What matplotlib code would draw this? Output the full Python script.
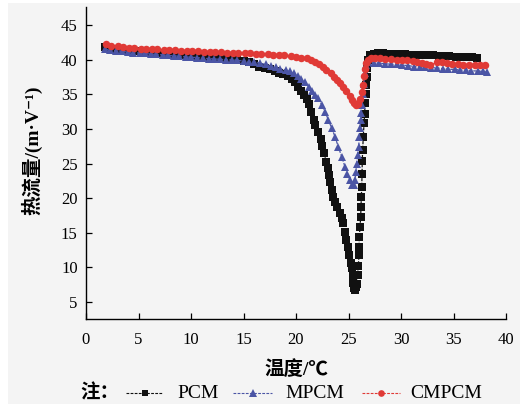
import matplotlib
matplotlib.use("Agg")
import matplotlib.pyplot as plt
from matplotlib.lines import Line2D
from matplotlib.patches import Rectangle

plt.rcParams['font.family'] = ['Liberation Serif', 'Noto Sans CJK SC', 'DejaVu Sans']

# ---- data ----
pcm_x = [1.8, 2.3, 2.9, 3.4, 4.0, 4.5, 5.1, 5.6, 6.2, 6.7,
         7.3, 7.8, 8.4, 8.9, 9.5, 10.0, 10.6, 11.1, 11.7, 12.2,
         12.8, 13.3, 13.9, 14.4, 15.0, 15.5, 16.0, 16.5, 17.0, 17.5,
         18.0, 18.4, 18.8, 19.2, 19.6, 19.9, 20.2, 20.5, 20.8, 21.0,
         21.2, 21.4, 21.7, 21.8, 22.1, 22.35, 22.45, 22.7, 22.85, 23.0,
         23.15, 23.25, 23.4, 23.55, 23.7, 23.95, 24.2, 24.35, 24.5, 24.65,
         24.8, 24.95, 25.05, 25.2, 25.3, 25.4, 25.45, 25.55, 25.62, 25.7,
         25.78, 25.87, 25.93, 26.0, 26.0, 26.03, 26.1, 26.16, 26.19, 26.22,
         26.26, 26.29, 26.31, 26.35, 26.41, 26.48, 26.54, 26.58, 26.63, 26.68,
         26.73, 26.8, 26.9, 27.05, 27.4, 27.8, 28.3, 28.8, 29.3, 29.8,
         30.4, 30.9, 31.4, 32.0, 32.5, 33.0, 33.6, 34.1, 34.6, 35.2,
         35.7, 36.2, 36.8, 37.2]
pcm_y = [41.8, 41.7, 41.6, 41.5, 41.4, 41.3, 41.2, 41.1, 41.0, 40.95,
         40.9, 40.8, 40.75, 40.7, 40.6, 40.55, 40.5, 40.45, 40.4, 40.35,
         40.3, 40.25, 40.2, 40.0, 39.8, 39.6, 39.3, 39.0, 38.8, 38.6,
         38.3, 38.1, 37.9, 37.6, 37.2, 36.7, 36.1, 35.5, 34.9, 34.3,
         33.6, 32.4, 31.3, 30.6, 29.6, 28.5, 27.5, 26.5, 25.2, 24.3,
         23.3, 22.4, 21.2, 20.2, 19.5, 18.7, 17.9, 17.2, 16.4, 15.1,
         13.9, 13.0, 11.8, 10.7, 9.9, 8.9, 7.7, 7.0, 6.8, 7.2,
         7.6, 8.9, 10.2, 11.8, 13.0, 14.4, 15.9, 17.3, 18.7, 20.2,
         21.6, 23.5, 25.4, 27.0, 28.9, 30.8, 32.2, 33.7, 35.0, 36.3,
         37.5, 38.8, 39.9, 40.6, 40.8, 40.9, 40.9, 40.85, 40.8, 40.8,
         40.75, 40.7, 40.7, 40.65, 40.6, 40.6, 40.55, 40.5, 40.5, 40.45,
         40.4, 40.4, 40.35, 40.3]

mpcm_x = [1.8, 2.3, 2.9, 3.4, 4.0, 4.5, 5.1, 5.6, 6.2, 6.7,
          7.3, 7.8, 8.4, 8.9, 9.5, 10.0, 10.6, 11.1, 11.7, 12.2,
          12.8, 13.3, 13.9, 14.4, 15.0, 15.5, 16.0, 16.6, 17.1, 17.6,
          18.1, 18.5, 19.0, 19.4, 19.8, 20.2, 20.5, 20.9, 21.2, 21.5,
          21.8, 22.1, 22.45, 22.76, 23.08, 23.4, 23.71, 24.03, 24.35, 24.67,
          24.9, 25.14, 25.37, 25.5, 25.62, 25.71, 25.78, 25.87, 25.97, 26.03,
          26.1, 26.16, 26.22, 26.3, 26.38, 26.45, 26.55, 26.7, 26.9, 27.4,
          27.9, 28.5, 29.0, 29.6, 30.1, 30.7, 31.2, 31.8, 32.3, 32.9,
          33.4, 34.0, 34.5, 35.1, 35.6, 36.2, 36.7, 37.3, 37.8, 38.2]
mpcm_y = [41.5, 41.4, 41.3, 41.2, 41.1, 41.0, 40.95, 40.9, 40.8, 40.75,
          40.7, 40.6, 40.55, 40.5, 40.4, 40.35, 40.3, 40.2, 40.15, 40.1,
          40.05, 40.0, 39.95, 39.9, 39.8, 39.7, 39.6, 39.5, 39.3, 39.1,
          38.9, 38.7, 38.5, 38.3, 38.0, 37.6, 37.2, 36.7, 36.1, 35.5,
          34.9, 34.4, 33.5, 32.5, 31.3, 30.1, 28.9, 27.4, 26.0, 24.5,
          23.5, 22.6, 21.9, 21.9, 22.6, 23.8, 25.0, 26.2, 27.4, 28.9,
          30.1, 31.3, 32.3, 33.5, 35.0, 36.5, 38.0, 39.2, 39.6, 39.5,
          39.5, 39.4, 39.35, 39.3, 39.2, 39.15, 39.0, 38.95, 38.9, 38.85,
          38.8, 38.7, 38.6, 38.6, 38.5, 38.45, 38.4, 38.35, 38.3, 38.2]

cmpcm_x = [1.9, 2.4, 3.0, 3.5, 4.1, 4.6, 5.2, 5.7, 6.3, 6.8,
           7.4, 7.9, 8.5, 9.0, 9.6, 10.1, 10.7, 11.2, 11.8, 12.3,
           12.9, 13.4, 14.0, 14.5, 15.1, 15.6, 16.2, 16.7, 17.3, 17.8,
           18.4, 18.9, 19.5, 20.0, 20.5, 21.0, 21.4, 21.8, 22.2, 22.6,
           22.9, 23.3, 23.6, 23.9, 24.2, 24.5, 24.8, 25.1, 25.3, 25.5,
           25.7, 25.9, 26.1, 26.25, 26.35, 26.45, 26.55, 26.7, 26.9, 27.1,
           27.5, 28.0, 28.5, 29.0, 29.6, 30.1, 30.6, 31.1, 31.5, 32.0,
           32.4, 32.8, 33.4, 33.9, 34.4, 34.9, 35.4, 35.9, 36.5, 37.0,
           37.5, 38.0]
cmpcm_y = [42.2, 42.0, 41.9, 41.8, 41.75, 41.7, 41.6, 41.55, 41.5, 41.5,
           41.4, 41.4, 41.35, 41.3, 41.3, 41.2, 41.2, 41.15, 41.1, 41.1,
           41.05, 41.0, 41.0, 41.0, 40.9, 40.9, 40.85, 40.8, 40.8, 40.7,
           40.6, 40.6, 40.5, 40.4, 40.3, 40.2, 40.0, 39.7, 39.3, 38.9,
           38.5, 38.0, 37.5, 37.1, 36.6, 36.0, 35.4, 34.7, 34.2, 33.7,
           33.5, 33.6, 34.3, 35.3, 36.4, 37.6, 38.6, 39.5, 40.0, 40.2,
           40.2, 40.2, 40.1, 40.05, 40.0, 40.0, 39.9, 39.8, 39.7, 39.5,
           39.3, 39.2, 39.6, 39.7, 39.5, 39.4, 39.3, 39.2, 39.2, 39.2,
           39.2, 39.2]

series_names = ["PCM", "MPCM", "CMPCM"]
colors = ["#111111", "#4b55a5", "#e03a36"]
markers = ["s", "^", "o"]
msizes = [5.2, 6.0, 5.4]

fig = plt.figure(figsize=(5.28, 4.07), dpi=100, facecolor="white")
# grey page background like the scanned figure
fig.patches.append(Rectangle((8 / 528, 3 / 407), 512 / 528, 401 / 407,
                             transform=fig.transFigure, facecolor="#f4f4f4",
                             edgecolor="none", zorder=-10))

ax = fig.add_axes([86 / 528, 1 - 319 / 407, 420 / 528, 312 / 407])
ax.set_facecolor("none")

data = [(pcm_x, pcm_y), (mpcm_x, mpcm_y), (cmpcm_x, cmpcm_y)]
dash = (0, (2.5, 1.2))
for (xs, ys), name, c, m, ms in zip(data, series_names, colors, markers, msizes):
    ax.plot(xs, ys, linestyle=dash, linewidth=0.9, color=c,
            marker=m, markersize=ms, markeredgewidth=0, label=name)

ax.set_xlim(0, 40)
ax.set_ylim(2.55, 47.6)
ax.set_xticks(range(0, 41, 5))
ax.set_yticks(range(5, 46, 5))
ax.spines["top"].set_visible(False)
ax.spines["right"].set_visible(False)
for s in ("left", "bottom"):
    ax.spines[s].set_linewidth(1.0)
ax.tick_params(direction="in", length=4, width=0.9, labelsize=12, pad=9)
ax.tick_params(axis="y", pad=6)

ax.set_xlabel("温度/℃", fontsize=14, fontweight="bold", labelpad=9)
ax.set_ylabel("热流量/(m·V⁻¹)", fontsize=14, fontweight="bold")
ax.yaxis.set_label_coords(-0.105, 0.54)

# legend row at the bottom
ly = 1 - 393 / 407
fig.text(80 / 528, ly, "注：", fontsize=14, fontweight="bold", va="center", ha="left")
xs_leg = [(126, 163, 177), (233, 272, 285), (362, 400, 410)]
for (x0, x1, xt), name, c, m, ms in zip(xs_leg, series_names, colors, markers, msizes):
    fig.lines.append(Line2D([x0 / 528, x1 / 528], [ly, ly], transform=fig.transFigure,
                            linestyle=dash, linewidth=0.8, color=c))
    fig.lines.append(Line2D([(x0 + x1) / 2 / 528], [ly], transform=fig.transFigure,
                            linestyle="none", marker=m, markersize=ms - 0.6,
                            markeredgewidth=0, color=c))
    fig.text(xt / 528, ly, name, fontsize=14, va="center", ha="left")

fig.savefig("out.png", dpi=100, facecolor=fig.get_facecolor())
